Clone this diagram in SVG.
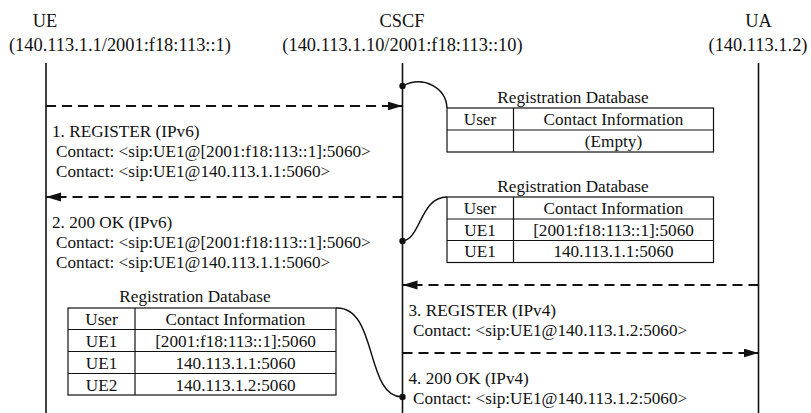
<svg xmlns="http://www.w3.org/2000/svg" width="811" height="413" viewBox="0 0 811 413">
<style>
text{font-family:"Liberation Serif","Times New Roman",serif;fill:#111;}
.hd{font-size:18.4px;}
.t{font-size:17.2px;}
.m{text-anchor:middle;}
.life{stroke:#111;stroke-width:1.6;fill:none;}
.msg{stroke:#111;stroke-width:2;stroke-dasharray:10 6;fill:none;}
.tb{stroke:#111;stroke-width:1.2;fill:none;}
.cv{stroke:#111;stroke-width:1.5;fill:none;}
</style>
<defs>
<marker id="ah" markerUnits="userSpaceOnUse" markerWidth="16" markerHeight="10" refX="15" refY="4.5" orient="auto">
<path d="M0,0 L15,4.5 L0,9 z" fill="#111"/>
</marker>
</defs>
<rect width="811" height="413" fill="#fff"/>

<g id="node-UE">
<text class="hd m" x="45" y="27">UE</text>
<text class="hd" x="9" y="50.5">(140.113.1.1/2001:f18:113::1)</text>
<line class="life" x1="46" y1="63" x2="46" y2="413"/>
</g>
<g id="node-CSCF">
<text class="hd m" x="402" y="27">CSCF</text>
<text class="hd m" x="402.5" y="50.5">(140.113.1.10/2001:f18:113::10)</text>
<line class="life" x1="402.5" y1="63" x2="402.5" y2="413"/>
</g>
<g id="node-UA">
<text class="hd m" x="758.5" y="27">UA</text>
<text class="hd m" x="758" y="50.5">(140.113.1.2)</text>
<line class="life" x1="758.5" y1="63" x2="758.5" y2="413"/>
</g>

<g id="db1">
<text class="t m" x="573" y="102.5">Registration Database</text>
<rect class="tb" x="447" y="108" width="266.5" height="44"/>
<line class="tb" x1="447" y1="130" x2="713.5" y2="130"/>
<line class="tb" x1="513.5" y1="108" x2="513.5" y2="152"/>
<text class="t m" x="480" y="125">User</text>
<text class="t m" x="613.5" y="125">Contact Information</text>
<text class="t m" x="613.5" y="147">(Empty)</text>
</g>

<g id="db2">
<text class="t m" x="573" y="191.5">Registration Database</text>
<rect class="tb" x="447" y="197" width="266.5" height="65.5"/>
<line class="tb" x1="447" y1="219" x2="713.5" y2="219"/>
<line class="tb" x1="447" y1="240.5" x2="713.5" y2="240.5"/>
<line class="tb" x1="513.5" y1="197" x2="513.5" y2="262.5"/>
<text class="t m" x="480" y="214">User</text>
<text class="t m" x="613.5" y="214">Contact Information</text>
<text class="t m" x="480" y="235.5">UE1</text>
<text class="t m" x="613.5" y="235.5">[2001:f18:113::1]:5060</text>
<text class="t m" x="480" y="257">UE1</text>
<text class="t m" x="613.5" y="257">140.113.1.1:5060</text>
</g>

<g id="db3">
<text class="t m" x="195" y="302">Registration Database</text>
<rect class="tb" x="68" y="308" width="268" height="87"/>
<line class="tb" x1="68" y1="329.5" x2="336" y2="329.5"/>
<line class="tb" x1="68" y1="351.5" x2="336" y2="351.5"/>
<line class="tb" x1="68" y1="373.5" x2="336" y2="373.5"/>
<line class="tb" x1="135" y1="308" x2="135" y2="395"/>
<text class="t m" x="101.5" y="325">User</text>
<text class="t m" x="235.5" y="325">Contact Information</text>
<text class="t m" x="101.5" y="347">UE1</text>
<text class="t m" x="235.5" y="347">[2001:f18:113::1]:5060</text>
<text class="t m" x="101.5" y="369">UE1</text>
<text class="t m" x="235.5" y="369">140.113.1.1:5060</text>
<text class="t m" x="101.5" y="390.5">UE2</text>
<text class="t m" x="235.5" y="390.5">140.113.1.2:5060</text>
</g>

<g id="connectors">
<line class="msg" x1="46" y1="106" x2="402.5" y2="106" marker-end="url(#ah)"/>
<line class="msg" x1="402.5" y1="197" x2="46" y2="197" marker-end="url(#ah)"/>
<line class="msg" x1="758.5" y1="285" x2="402.5" y2="285" marker-end="url(#ah)"/>
<line class="msg" x1="402.5" y1="353" x2="758.5" y2="353" marker-end="url(#ah)"/>
<path class="cv" d="M402.5,86 C424,75 446,88 447,108"/>
<path class="cv" d="M402.5,241 C421,239 420,197 447,197"/>
<path class="cv" d="M336,308 C378,306 365,398 402.5,397"/>
<circle cx="402.5" cy="86" r="3.2" fill="#111"/>
<circle cx="402.5" cy="241" r="3.2" fill="#111"/>
<circle cx="402.5" cy="397" r="3.2" fill="#111"/>
</g>

<g id="labels">
<text class="t" x="52" y="137">1. REGISTER (IPv6)</text>
<text class="t" x="56" y="157">Contact: &lt;sip:UE1@[2001:f18:113::1]:5060&gt;</text>
<text class="t" x="56" y="177">Contact: &lt;sip:UE1@140.113.1.1:5060&gt;</text>
<text class="t" x="52" y="228">2. 200 OK (IPv6)</text>
<text class="t" x="56" y="248">Contact: &lt;sip:UE1@[2001:f18:113::1]:5060&gt;</text>
<text class="t" x="56" y="268">Contact: &lt;sip:UE1@140.113.1.1:5060&gt;</text>
<text class="t" x="408.5" y="316">3. REGISTER (IPv4)</text>
<text class="t" x="413" y="336">Contact: &lt;sip:UE1@140.113.1.2:5060&gt;</text>
<text class="t" x="408.5" y="384">4. 200 OK (IPv4)</text>
<text class="t" x="413" y="404">Contact: &lt;sip:UE1@140.113.1.2:5060&gt;</text>
</g>
</svg>
